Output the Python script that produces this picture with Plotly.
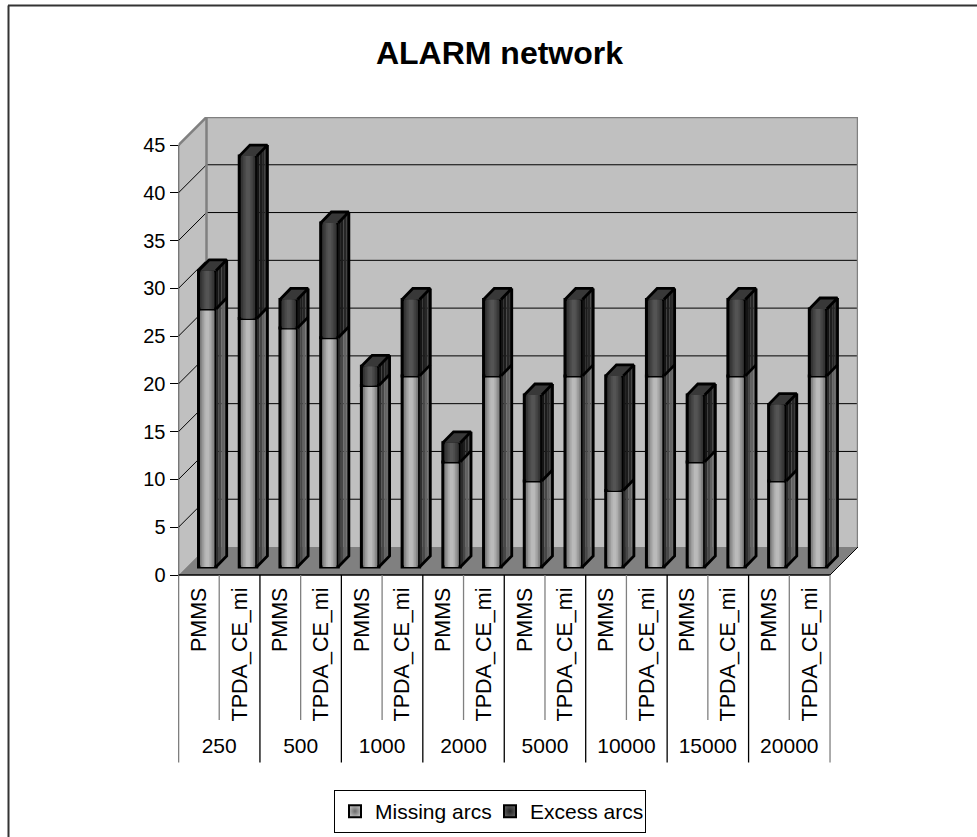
import plotly.graph_objects as go

# ---- data ----
sample_sizes = ["250", "500", "1000", "2000", "5000", "10000", "15000", "20000"]
methods = ["PMMS", "TPDA_CE_mi"]
missing_arcs = [27, 26, 25, 24, 19, 20, 11, 20, 9, 20, 8, 20, 11, 20, 9, 20]
excess_arcs = [4, 17, 3, 12, 2, 8, 2, 8, 9, 8, 12, 8, 7, 8, 8, 7]
y_ticks = [0, 5, 10, 15, 20, 25, 30, 35, 40, 45]

# ---- layout geometry ----
W, H = 977, 837
PX_L, PX_B, PX_T45, PX_END = 178.5, 575.0, 145.0, 763.0
SLOT = 40.72
UNIT = (PX_B - PX_T45) / 45
DEPTH_PX = 28.0
FONT = "Liberation Sans, Arial, sans-serif"

DX = DEPTH_PX / SLOT
DY = DEPTH_PX / UNIT
n = len(missing_arcs)
x0, x1 = -0.5, n - 0.5
x = list(range(n))
SHIFT_X = 8.4 / SLOT
SHIFT_Y = 8.0 / UNIT
BAR_W = 17.5 / SLOT
BAR_DX = 10.7 / SLOT
BAR_DY = 11.0 / UNIT


def py(px):
    return (PX_B - px) / UNIT


def poly(points):
    return "M " + " L ".join(f"{a},{b}" for a, b in points) + " Z"


shapes = [
    dict(type="path", path=poly([(x0, 0), (x0, 45), (x0 + DX, 45 + DY), (x0 + DX, DY)]),
         fillcolor="#c0c0c0", line=dict(width=0), layer="below"),
    dict(type="path", path=poly([(x0 + DX, DY), (x0 + DX, 45 + DY), (x1 + DX, 45 + DY), (x1 + DX, DY)]),
         fillcolor="#c0c0c0", line=dict(width=0), layer="below"),
    dict(type="path", path=poly([(x0, 0), (x1, 0), (x1 + DX, DY), (x0 + DX, DY)]),
         fillcolor="#808080", line=dict(width=0), layer="below"),
]
for t in y_ticks[1:-1]:
    for a, b, c, d in [(x0, t, x0 + DX, t + DY), (x0 + DX, t + DY, x1 + DX, t + DY)]:
        shapes.append(dict(type="line", x0=a, y0=b, x1=c, y1=d, layer="below",
                           line=dict(color="#000000", width=1)))
for a, b, c, d in [(x0, 45, x0 + DX, 45 + DY), (x0 + DX, DY, x0 + DX, 45 + DY),
                   (x0 + DX, 45 + DY, x1 + DX, 45 + DY), (x1 + DX, DY, x1 + DX, 45 + DY)]:
    shapes.append(dict(type="line", x0=a, y0=b, x1=c, y1=d, layer="below",
                       line=dict(color="#808080", width=2.5)))
shapes.append(dict(type="line", x0=x1, y0=0, x1=x1 + DX, y1=DY, layer="below",
                   line=dict(color="#000000", width=1)))
# chart-area frame: left and top edges only, running off the page
shapes.append(dict(type="line", xref="paper", yref="paper", x0=8.5 / W, x1=8.5 / W,
                   y0=0, y1=1 - 5.5 / H, line=dict(color="#333333", width=2)))
shapes.append(dict(type="line", xref="paper", yref="paper", x0=8 / W, x1=1,
                   y0=1 - 5.5 / H, y1=1 - 5.5 / H, line=dict(color="#333333", width=2)))

fig = go.Figure()

bar_x = [v + SHIFT_X for v in x]
base_m = [SHIFT_Y] * n
base_e = [SHIFT_Y + m for m in missing_arcs]
widths = [1.0, 0.78, 0.58, 0.40, 0.22]
front_m = ["#6f6f6f", "#868686", "#9c9c9c", "#adadad", "#bababa"]
front_e = ["#2c2c2c", "#363636", "#414141", "#4b4b4b", "#545454"]
for vals, bases, cols in [(missing_arcs, base_m, front_m), (excess_arcs, base_e, front_e)]:
    for i, (wf, col) in enumerate(zip(widths, cols)):
        fig.add_trace(go.Bar(
            x=bar_x, y=vals, base=bases, width=BAR_W * wf, showlegend=False, hoverinfo="skip",
            marker=dict(color=col, line=dict(color="#000000", width=3 if i == 0 else 0)),
        ))

# 3-D sides and tops derived from the same values
side_m = ["#2e2e2e", "#474747", "#626262", "#6a6a6a"]
side_e = ["#141414", "#1c1c1c", "#262626", "#2e2e2e"]
ns = len(side_m)
for vals, bases, cols in [(missing_arcs, base_m, side_m), (excess_arcs, base_e, side_e)]:
    for k, col in enumerate(cols):
        sx, sy = [], []
        for i in range(n):
            xr = bar_x[i] + BAR_W / 2
            a, b = k / ns, (k + 1) / ns
            lo, hi = bases[i], bases[i] + vals[i]
            sx += [xr + a * BAR_DX, xr + b * BAR_DX, xr + b * BAR_DX, xr + a * BAR_DX, xr + a * BAR_DX, None]
            sy += [lo + a * BAR_DY, lo + b * BAR_DY, hi + b * BAR_DY, hi + a * BAR_DY, lo + a * BAR_DY, None]
        fig.add_trace(go.Scatter(x=sx, y=sy, mode="lines", fill="toself", fillcolor=col,
                                 line=dict(width=0), showlegend=False, hoverinfo="skip"))

# top faces and black wire edges of the side faces
tx, ty, ex, ey = [], [], [], []
for i in range(n):
    xl = bar_x[i] - BAR_W / 2
    xr = bar_x[i] + BAR_W / 2
    low = base_m[i]
    mid = base_e[i]
    top = mid + excess_arcs[i]
    tx += [xl, xr, xr + BAR_DX, xl + BAR_DX, xl, None]
    ty += [top, top, top + BAR_DY, top + BAR_DY, top, None]
    ex += [xr, xr + BAR_DX, xr + BAR_DX, None, xr, xr + BAR_DX, None, xl, xl + BAR_DX, xr + BAR_DX, xr, None]
    ey += [low, low + BAR_DY, top + BAR_DY, None, mid, mid + BAR_DY, None,
           top, top + BAR_DY, top + BAR_DY, top, None]
fig.add_trace(go.Scatter(x=tx, y=ty, mode="lines", fill="toself", fillcolor="#383838",
                         line=dict(width=0), showlegend=False, hoverinfo="skip"))
fig.add_trace(go.Scatter(x=ex, y=ey, mode="lines", line=dict(color="#000000", width=2.8),
                         showlegend=False, hoverinfo="skip"))

# axis lines and multi-level category dividers
fig.add_trace(go.Scatter(x=[x0, x1, None, x0, x0], y=[0, 0, None, 0, 45], mode="lines",
                         line=dict(color="#000000", width=1.3), cliponaxis=False,
                         showlegend=False, hoverinfo="skip"))
group_bottom = py(PX_END - 0.5)
inner_bottom = py(720)
gx, gy, ix, iy = [], [], [], []
for g in range(len(sample_sizes)):
    gx += [x0 + 2 * g, x0 + 2 * g, None]
    gy += [0, group_bottom, None]
    ix += [x0 + 2 * g + 1, x0 + 2 * g + 1, None]
    iy += [0, inner_bottom, None]
fig.add_trace(go.Scatter(x=gx, y=gy, mode="lines", line=dict(color="#000000", width=1.3),
                         showlegend=False, hoverinfo="skip"))
fig.add_trace(go.Scatter(x=ix + [x1, x1], y=iy + [0, group_bottom], mode="lines",
                         line=dict(color="#808080", width=1.3),
                         showlegend=False, hoverinfo="skip"))
fig.add_trace(go.Scatter(x=[2 * g + 0.5 for g in range(len(sample_sizes))],
                         y=[py(748)] * len(sample_sizes), mode="text", text=sample_sizes,
                         textposition="middle center", textfont=dict(family=FONT, size=21, color="#000000"),
                         showlegend=False, hoverinfo="skip"))

# legend entries
for name, c_in, c_out in [("Missing arcs", "#b8b8b8", "#6a6a6a"), ("Excess arcs", "#5a5a5a", "#222222")]:
    fig.add_trace(go.Scatter(x=[None], y=[None], mode="markers", name=name,
                             marker=dict(symbol="square", size=12, color=c_in,
                                         gradient=dict(type="radial", color=c_out),
                                         line=dict(color="#000000", width=2))))

fig.update_layout(
    width=W, height=H, barmode="overlay", paper_bgcolor="#ffffff", plot_bgcolor="rgba(0,0,0,0)",
    margin=dict(l=0, r=0, t=0, b=0, pad=0), shapes=shapes,
    font=dict(family=FONT, size=20, color="#000000"),
    title=dict(text="<b>ALARM network</b>", x=499.5 / W, xanchor="center", xref="paper",
               y=1 - 53 / H, yanchor="middle", yref="paper",
               font=dict(family=FONT, size=32, color="#000000")),
    xaxis=dict(domain=[PX_L / W, (PX_L + n * SLOT + DEPTH_PX) / W], range=[x0, x1 + DX],
               anchor="free", position=1 - PX_B / H,
               tickvals=x, ticktext=methods * len(sample_sizes), tickangle=-90,
               ticks="outside", ticklen=3, tickcolor="rgba(0,0,0,0)", showgrid=False,
               zeroline=False, showline=False, automargin=False,
               tickfont=dict(family=FONT, size=21.5, color="#000000")),
    yaxis=dict(domain=[1 - PX_END / H, 1 - (PX_T45 - DEPTH_PX) / H], range=[py(PX_END), 45 + DY],
               tickvals=y_ticks, ticks="outside", ticklen=8, tickcolor="#000000", tickwidth=1,
               showgrid=False, zeroline=False, showline=False, automargin=False,
               tickfont=dict(family=FONT, size=20, color="#000000")),
    legend=dict(orientation="h", x=334 / W, xanchor="left", y=1 - 790 / H, yanchor="top",
                entrywidth=110, entrywidthmode="pixels",
                bordercolor="#000000", borderwidth=1, bgcolor="#ffffff",
                font=dict(family=FONT, size=21, color="#000000")),
)

fig.write_html("out.html", config=dict(displayModeBar=False),
               post_script="document.body.style.margin='0';document.body.style.overflow='hidden';")
